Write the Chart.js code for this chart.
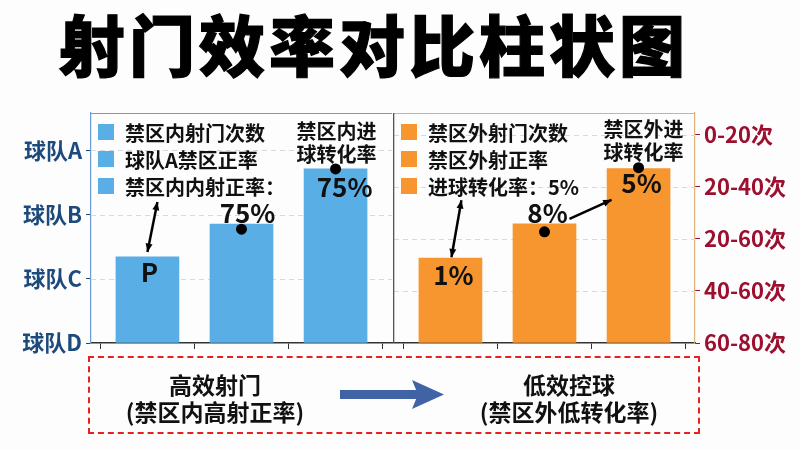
<!DOCTYPE html>
<html>
<head>
<meta charset="utf-8">
<script src="https://cdn.jsdelivr.net/npm/chart.js@4/dist/chart.umd.min.js"></script>
<style>
  html, body { margin: 0; padding: 0; background: #fdfdfd; }
  #page { position: relative; width: 800px; height: 450px; overflow: hidden; font-family: "Noto Sans CJK SC", "Noto Sans", sans-serif; }
  #title { position: absolute; left: 0; top: 6px; width: 748px; text-align: center; font-size: 66px; line-height: 1.1; font-weight: 900; color: #000; -webkit-text-stroke: 1.2px #000; letter-spacing: 4px; }
  .panel { position: absolute; top: 0; height: 450px; }
  #left { left: 0; width: 393px; }
  #right { left: 393px; width: 407px; }
  #box { position: absolute; left: 88px; top: 356px; width: 608px; height: 74px; border: 2px dashed #e42222; }
  .note { position: absolute; width: 220px; text-align: center; font-size: 23px; line-height: 27px; font-weight: bold; color: #111; }
  #arrow { position: absolute; left: 338px; top: 378px; }
</style>
</head>
<body>
<div id="page">
  <div id="title">射门效率对比柱状图</div>
  <canvas id="left" class="panel" width="393" height="450"></canvas>
  <canvas id="right" class="panel" width="407" height="450"></canvas>
  <div id="box"></div>
  <div class="note" style="left:105px; top:371px;">高效射门<br>(禁区内高射正率)</div>
  <div class="note" style="left:459px; top:371px;">低效控球<br>(禁区外低转化率)</div>
  <svg id="arrow" width="110" height="34">
    <rect x="2" y="12" width="78" height="9" fill="#4063a6"/>
    <polygon points="74,2 106,16.5 74,31 80,16.5" fill="#4063a6"/>
  </svg>
</div>
<script>
// axis tick labels
const teamTicks = ['球队D', '球队C', '球队B', '球队A'];
const rangeTicks = ['60-80次', '40-60次', '20-60次', '20-40次', '0-20次'];

// categories (shown as legend rows)
const insideCats = ['禁区内射门次数', '球队A禁区正率', '禁区内内射正率：'];
const outsideCats = ['禁区外射门次数', '禁区外射正率', '进球转化率：5%'];

// bar heights, read against each panel's own axis
const insideValues = [1.34, 1.85, 2.71];
const outsideValues = [1.63, 2.29, 3.35];

// labels printed on the bars
const insideNotes = ['P', '75%', '75%'];
const outsideNotes = ['1%', '8%', '5%'];
const insideHeader = ['禁区内进', '球转化率'];
const outsideHeader = ['禁区外进', '球转化率'];

const FONT = '"Noto Sans CJK SC", "Noto Sans", sans-serif';
Chart.defaults.font.family = FONT;

function drawArrow(ctx, x1, y1, x2, y2, both) {
    const head = 9;
    ctx.beginPath();
    ctx.moveTo(x1, y1);
    ctx.lineTo(x2, y2);
    ctx.stroke();
    const tip = (ax, ay, bx, by) => {
        const a = Math.atan2(by - ay, bx - ax);
        ctx.beginPath();
        ctx.moveTo(bx, by);
        ctx.lineTo(bx - head * Math.cos(a - 0.4), by - head * Math.sin(a - 0.4));
        ctx.lineTo(bx - head * Math.cos(a + 0.4), by - head * Math.sin(a + 0.4));
        ctx.closePath();
        ctx.fill();
    };
    tip(x1, y1, x2, y2);
    if (both) tip(x2, y2, x1, y1);
}

/**
 * Legend rows, frame lines, dots, bar labels and arrows, placed from the chart area and bar elements
 */
const panelNotes = {
    id: 'panelNotes',
    beforeDatasetsDraw(chart, args, opts) {
        // dashed grid lines drawn by hand so the dash is visible
        const ctx = chart.ctx;
        const area = chart.chartArea;
        const y = chart.scales.y;
        ctx.save();
        ctx.strokeStyle = '#d3d9e0';
        ctx.lineWidth = 1;
        ctx.setLineDash([5, 4]);
        y.ticks.forEach(t => {
            if (t.value <= 0) return;
            const py = Math.round(y.getPixelForValue(t.value)) + 0.5;
            ctx.beginPath();
            ctx.moveTo(area.left, py);
            ctx.lineTo(area.right, py);
            ctx.stroke();
        });
        ctx.restore();
    },
    afterDatasetsDraw(chart, args, opts) {
        const ctx = chart.ctx;
        const area = chart.chartArea;
        const bars = chart.getDatasetMeta(0).data;
        ctx.save();

        ctx.lineWidth = 1.2;
        ctx.strokeStyle = opts.frameColor;
        ctx.beginPath();
        ctx.moveTo(area.left, area.top + 0.5);
        ctx.lineTo(area.right, area.top + 0.5);
        ctx.stroke();
        if (opts.divider) {
            ctx.lineWidth = 1.6;
            ctx.strokeStyle = '#4b5560';
            ctx.beginPath();
            ctx.moveTo(area.left - 0.5, area.top);
            ctx.lineTo(area.left - 0.5, area.bottom);
            ctx.stroke();
        }

        // legend rows
        ctx.textAlign = 'left';
        ctx.textBaseline = 'middle';
        ctx.font = 'bold 20px ' + FONT;
        chart.data.labels.forEach((t, k) => {
            const ry = area.top + 19 + k * 27;
            ctx.fillStyle = chart.data.datasets[0].backgroundColor;
            ctx.fillRect(area.left + 7, ry - 8, 16, 16);
            ctx.fillStyle = '#111';
            ctx.fillText(t, area.left + 34, ry + 1);
        });

        ctx.fillStyle = '#000';
        opts.dots.forEach(d => {
            const b = bars[d.i];
            ctx.beginPath();
            ctx.arc(b.x + d.dx, b.y + d.dy, 5.5, 0, Math.PI * 2);
            ctx.fill();
        });

        ctx.textAlign = 'center';
        ctx.fillStyle = '#111';
        ctx.font = '600 26px ' + FONT;
        opts.notes.forEach((t, i) => {
            const b = bars[i];
            const o = opts.noteOffsets[i];
            ctx.fillText(t, b.x + o[0], b.y + o[1]);
        });

        ctx.font = 'bold 20px ' + FONT;
        const hb = bars[opts.headerBar];
        opts.header.forEach((line, k) => {
            ctx.fillText(line, hb.x + opts.headerDx, hb.y + opts.headerDy + k * 23);
        });

        ctx.lineWidth = 2.5;
        ctx.strokeStyle = '#000';
        ctx.fillStyle = '#000';
        opts.arrows.forEach(a => {
            const p = bars[a.from], q = bars[a.to];
            drawArrow(ctx, p.x + a.p[0], p.y + a.p[1], q.x + a.q[0], q.y + a.q[1], a.both);
        });
        ctx.restore();
    }
};

function makePanel(id, cats, values, color, side, ticks, tickColor, yMax, axisWidth, padding, notesCfg) {
    return new Chart(document.getElementById(id), {
        type: 'bar',
        data: {
            labels: cats,
            datasets: [{
                data: values.map((v, i) => ({ x: i, y: v })),
                backgroundColor: color,
                borderWidth: 0,
                barThickness: 63
            }]
        },
        options: {
            responsive: false,
            animation: false,
            layout: { padding: padding },
            scales: {
                x: {
                    type: 'linear',
                    offset: false,
                    min: -0.6,
                    max: 2.6,
                    ticks: { stepSize: 1, includeBounds: false, display: false },
                    grid: { drawOnChartArea: false, tickLength: 6, tickColor: '#333' },
                    border: { color: '#333', width: 1.5 },
                    afterFit: s => { s.height = 107; }
                },
                y: {
                    position: side,
                    min: 0,
                    max: yMax,
                    ticks: {
                        stepSize: 1,
                        includeBounds: false,
                        padding: 4,
                        color: tickColor,
                        font: { size: 22, weight: 'bold' },
                        callback: v => ticks[v]
                    },
                    grid: { drawOnChartArea: false, tickColor: tickColor, tickLength: 5 },
                    border: { color: notesCfg.frameColor, width: 1.2 },
                    afterFit: s => { s.width = axisWidth; }
                }
            },
            plugins: {
                legend: { display: false },
                tooltip: { enabled: false },
                panelNotes: notesCfg
            }
        },
        plugins: [panelNotes]
    });
}

makePanel('left', insideCats, insideValues, '#5aaee6', 'left', teamTicks, '#1d4a7c', 3.58, 91,
    { top: 113, right: 1, left: 0, bottom: 0 },
    {
        frameColor: '#6b9bd2',
        divider: false,
        notes: insideNotes,
        noteOffsets: [[2, 15], [6, -11], [9, 18]],
        dots: [{ i: 1, dx: 0, dy: 5 }, { i: 2, dx: 0, dy: 0 }],
        header: insideHeader, headerBar: 2, headerDx: 1, headerDy: -37,
        arrows: [{ from: 0, to: 0, p: [0, -5], q: [10, -55], both: true }]
    });

makePanel('right', outsideCats, outsideValues, '#f7952f', 'right', rangeTicks, '#9c0f2e', 4.42, 105,
    { top: 113, left: 1, right: 0, bottom: 0 },
    {
        frameColor: '#deb07c',
        divider: true,
        notes: outsideNotes,
        noteOffsets: [[3, 17], [3, -11], [3, 14]],
        dots: [{ i: 1, dx: 0, dy: 8 }, { i: 2, dx: 0, dy: -1 }],
        header: outsideHeader, headerBar: 2, headerDx: 5, headerDy: -39,
        arrows: [
            { from: 0, to: 0, p: [1, -1], q: [11, -58], both: true },
            { from: 1, to: 1, p: [25, -5], q: [67, -24], both: false }
        ]
    });
</script>
</body>
</html>
